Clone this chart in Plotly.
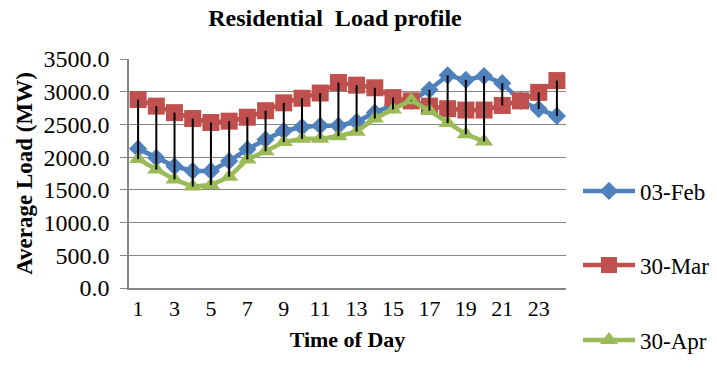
import plotly.graph_objects as go

hours = list(range(1, 25))
feb03 = [2130, 1990, 1860, 1790, 1790, 1940, 2120, 2270, 2400, 2460, 2480, 2480,
         2540, 2680, 2800, 2860, 3030, 3250, 3180, 3240, 3130, 2860, 2735, 2630]
mar30 = [2880, 2780, 2680, 2590, 2530, 2550, 2610, 2710, 2830, 2900, 2980, 3140,
         3100, 3060, 2910, 2860, 2780, 2740, 2720, 2720, 2790, 2860, 2990, 3170]
apr30 = [1970, 1810, 1660, 1550, 1575, 1700, 1965, 2090, 2230, 2280, 2280, 2320,
         2390, 2590, 2730, 2870, 2710, 2520, 2350, 2240]
series_names = ["03-Feb", "30-Mar", "30-Apr"]
x_ticks = list(range(1, 24, 2))
y_ticks = [0, 500, 1000, 1500, 2000, 2500, 3000, 3500]

FONT = "Liberation Serif"
colors = ["#4F81BD", "#C0504D", "#9BBB59"]
symbols = ["diamond", "square", "triangle-up"]
sizes = [14, 17, 16]

fig = go.Figure()
all_series = [feb03, mar30, apr30]
legends = ["legend", "legend2", "legend3"]
for i, (name, ys) in enumerate(zip(series_names, all_series)):
    fig.add_trace(go.Scatter(
        x=hours[:len(ys)], y=ys, name=name, mode="lines+markers",
        line=dict(color=colors[i], width=4.5),
        marker=dict(symbol=symbols[i], size=sizes[i], color=colors[i]),
        legend=legends[i],
    ))

# high-low lines
hx, hy = [], []
for k, h in enumerate(hours):
    vals = [s[k] for s in all_series if k < len(s)]
    hx += [h, h, None]
    hy += [max(vals), min(vals), None]
fig.add_trace(go.Scatter(x=hx, y=hy, mode="lines", line=dict(color="black", width=2),
                         showlegend=False, hoverinfo="skip"))

leg_common = dict(xref="container", yref="container", xanchor="left", yanchor="middle",
                  itemwidth=52,
                  font=dict(family=FONT, size=23, color="black"), bgcolor="rgba(0,0,0,0)")
fig.update_layout(
    width=717, height=369,
    margin=dict(l=129, r=149, t=59, b=81),
    paper_bgcolor="white", plot_bgcolor="white",
    font=dict(family=FONT, color="black"),
    title=dict(text="<b>Residential  Load profile</b>", x=335/717, xanchor="center",
               y=1 - 18/369, yanchor="middle", font=dict(family=FONT, size=24)),
    legend=dict(x=578/717, y=1 - 191/369, **leg_common),
    legend2=dict(x=578/717, y=1 - 265/369, **leg_common),
    legend3=dict(x=578/717, y=1 - 340/369, **leg_common),
    xaxis=dict(range=[0.5, 24.5], tickvals=x_ticks, ticktext=[str(t) for t in x_ticks],
               showgrid=False, showline=True, linecolor="#868686", linewidth=1.5,
               ticks="", tickfont=dict(family=FONT, size=22),
               title=dict(text="<b>Time of Day</b>", font=dict(family=FONT, size=22), standoff=11),
               zeroline=False),
    yaxis=dict(range=[0, 3500], tickvals=y_ticks, ticktext=[f"{v:.1f}" for v in y_ticks],
               showgrid=True, gridcolor="#868686", gridwidth=1.2,
               showline=True, linecolor="#868686", linewidth=1.5,
               ticks="outside", ticklen=7, tickcolor="#868686", ticklabelstandoff=6,
               tickfont=dict(family=FONT, size=24),
               title=dict(text="<b>Average Load (MW)</b>", font=dict(family=FONT, size=23), standoff=4),
               zeroline=False),
)
fig.write_html("out.html")
